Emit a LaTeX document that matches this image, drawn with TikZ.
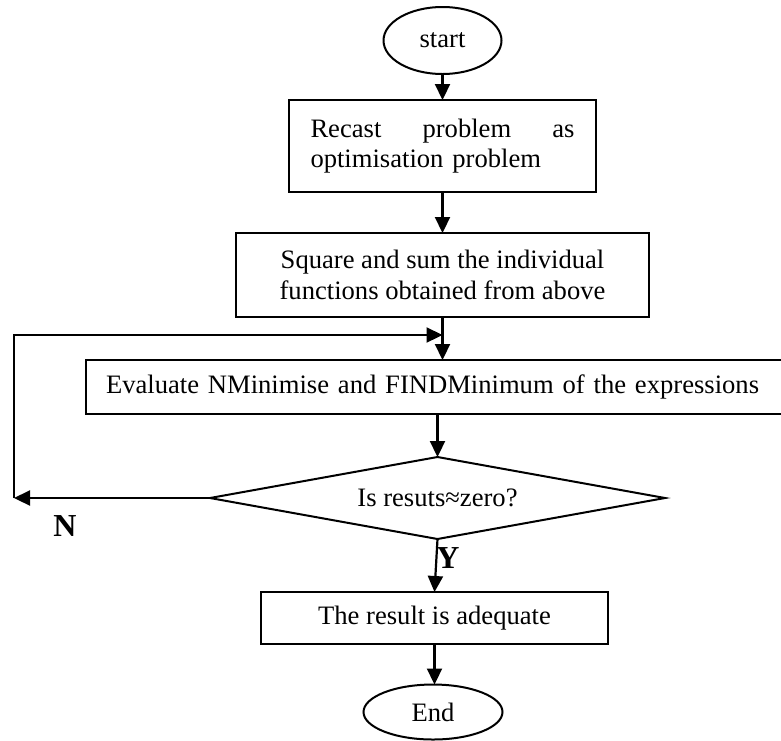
\documentclass[tikz,border=0pt]{standalone}
\usepackage{fontspec}
\setmainfont{Liberation Serif}
\usetikzlibrary{arrows.meta,shapes.geometric}
\begin{document}
\begin{tikzpicture}[x=0.5pt,y=-0.5pt,
  base/.style={font=\fontsize{13.3}{15.3}\selectfont, outer sep=0pt, line width=1pt},
  term/.style={base, draw, ellipse, inner sep=0pt},
  proc/.style={base, draw, rectangle, inner sep=0pt, align=center},
  dec/.style={base, draw, diamond, inner sep=0pt, shape aspect=5.5},
  flow/.style={line width=1.1pt, -{Triangle[length=8pt,width=7.5pt]}},
  yn/.style={font=\fontsize{16}{18}\selectfont\bfseries}
]
\useasboundingbox (0,0) rectangle (781,740);
\clip (0,0) rectangle (781,740);

% process steps
\node[term, minimum width=59pt, minimum height=33.5pt] (start) at (442.5,40.5) {start};
\node[proc, minimum width=153.5pt, minimum height=46pt, text width=132pt, align=left] (recast) at (442.5,146)
  {\hbox to 132pt{Recast\hfill problem\hfill as}\\optimisation problem};
\node[proc, minimum width=206.5pt, minimum height=42pt] (square) at (442.5,275)
  {Square and sum the individual\\functions obtained from above};
\node[proc, anchor=west, minimum height=27pt, text width=337pt, inner xsep=10pt, align=left] (eval) at (86,387)
  {Evaluate NMinimise and FINDMinimum of the expressions};
\node[dec, minimum width=227.5pt, minimum height=41pt] (test) at (437.5,498) {Is resuts≈zero?};
\node[proc, minimum width=173.5pt, minimum height=26pt] (ok) at (434.5,618) {The result is adequate};
\node[term, minimum width=69.5pt, minimum height=27.5pt] (end) at (433,712) {End};

% loop-back corners
\coordinate (nleft) at (14,498);
\coordinate (ntop) at (14,335);

% connectors
\draw[flow] (start) -- (recast);
\draw[flow] (recast) -- (square);
\draw[flow] (square.south) -- (square.south |- eval.north);
\draw[flow] (test.north |- eval.south) -- (test.north);
\draw[flow] (test.west) -- (nleft);
\draw[flow] (nleft) -- (ntop) -- (square.south |- ntop);
\draw[flow] (test.south) -- (ok.north);
\draw[flow] (ok.south) -- (ok.south |- end.north);

% branch labels
\node[yn] (nlab) at (65,526) {N};
\node[yn] (ylab) at (448,558) {Y};
\end{tikzpicture}
\end{document}
